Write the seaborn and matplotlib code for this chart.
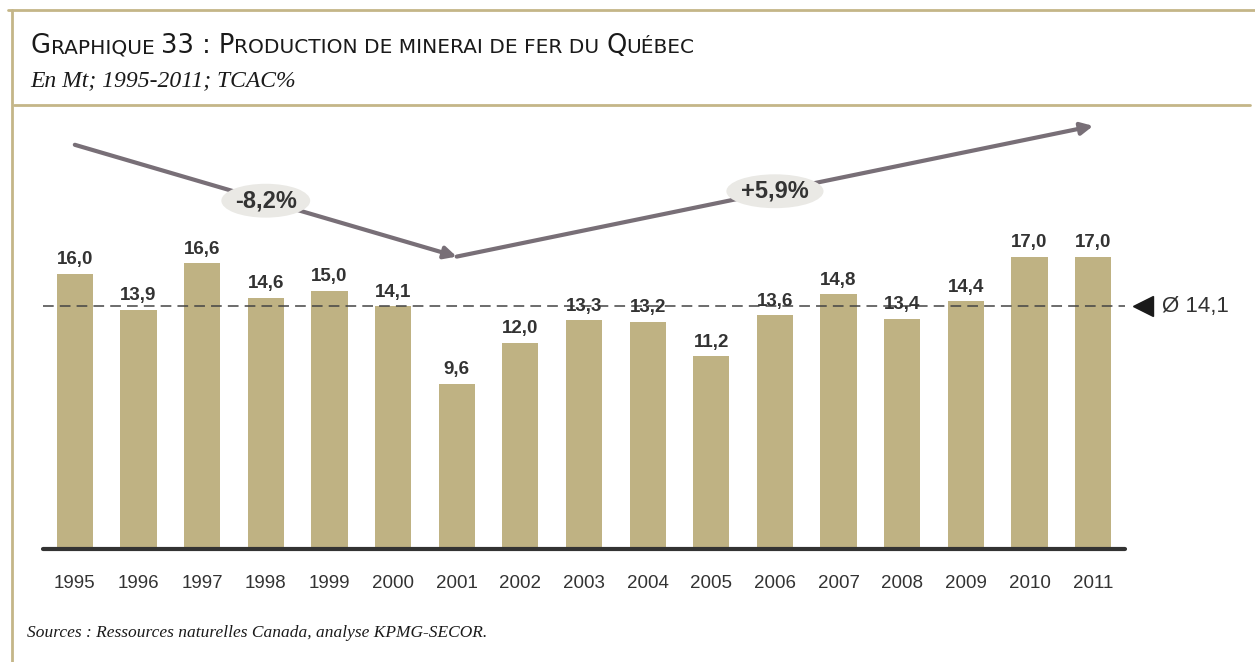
import numpy as np
import pandas as pd
import matplotlib
matplotlib.use("Agg")
import matplotlib.pyplot as plt
import seaborn as sns
from matplotlib.lines import Line2D

# Production de minerai de fer du Québec, en Mt
years = ["1995", "1996", "1997", "1998", "1999", "2000", "2001", "2002", "2003",
         "2004", "2005", "2006", "2007", "2008", "2009", "2010", "2011"]
production = [16.0, 13.9, 16.6, 14.6, 15.0, 14.1, 9.6, 12.0, 13.3,
              13.2, 11.2, 13.6, 14.8, 13.4, 14.4, 17.0, 17.0]

# periods for the TCAC arrows (index of start / end year)
period_start = [0, 6]
period_end = [6, 16]
arrow_y_start = [23.5, 17.0]
arrow_y_end = [17.0, 24.6]

bar_color = "#BFB283"
frame_color = "#C4B688"
arrow_color = "#786F77"
text_color = "#333333"

df = pd.DataFrame({"year": years, "prod": production})
mean_val = np.mean(production)

sns.set_theme(style="white")
plt.rcParams["font.family"] = ["Liberation Sans", "DejaVu Sans"]

W, H = 1255, 662
fig = plt.figure(figsize=(W / 100, H / 100), dpi=100)
ax = fig.add_axes([43 / W, (H - 549) / H, 1082 / W, 449 / H])

sns.barplot(data=df, x="year", y="prod", color=bar_color, width=0.57,
            saturation=1, linewidth=0, ax=ax)
ax.set_ylim(0, 449 / 17.2)
ax.set_xlim(-0.5, len(years) - 0.5)
ax.set_xlabel("")
ax.set_ylabel("")
ax.set_yticks([])
sns.despine(ax=ax, left=True, bottom=True)
ax.tick_params(axis="x", length=0, pad=19, labelsize=13.5, labelcolor=text_color)

# baseline
ax.axhline(0, color="#333333", lw=3, clip_on=False, zorder=5)

# value labels
for i, v in enumerate(production):
    ax.annotate(f"{v:.1f}".replace(".", ","), (i, v), xytext=(0, 4),
                textcoords="offset points", ha="center", va="bottom",
                fontsize=13.5, fontweight="bold", color=text_color)

# mean line
ax.axhline(mean_val, color="#444444", lw=1.1, ls=(0, (7, 4)),
           zorder=1)
ax.plot([1.0166], [mean_val], marker="<", markersize=15, color="#1a1a1a",
        transform=ax.get_yaxis_transform(), clip_on=False)
ax.text(1.034, mean_val, "Ø " + f"{mean_val:.1f}".replace(".", ","),
        transform=ax.get_yaxis_transform(), ha="left", va="center",
        fontsize=16, color=text_color)

# TCAC arrows
for s, e, ys, ye in zip(period_start, period_end, arrow_y_start, arrow_y_end):
    ax.annotate("", xy=(e, ye), xytext=(s, ys),
                arrowprops=dict(arrowstyle="-|>", color=arrow_color, lw=3,
                                mutation_scale=18, shrinkA=0, shrinkB=0))
    n = e - s
    tcac = (production[e] / production[s]) ** (1 / n) - 1
    label = f"{tcac * 100:+.1f}%".replace(".", ",")
    ax.text((s + e) / 2, (ys + ye) / 2, label, ha="center", va="center",
            fontsize=17, fontweight="bold", color=text_color, zorder=6,
            bbox=dict(boxstyle="ellipse,pad=0.02", fc="#EAE9E5", ec="none"))

# frame lines
fig.add_artist(Line2D([8 / W, 1], [1 - 10 / H, 1 - 10 / H], color=frame_color, lw=2))
fig.add_artist(Line2D([12 / W, 12 / W], [0, 1 - 10 / H], color=frame_color, lw=2))
fig.add_artist(Line2D([14 / W, 1250 / W], [1 - 105 / H, 1 - 105 / H], color=frame_color, lw=2))

# title in small caps
renderer = fig.canvas.get_renderer()
pieces = [("G", 18.5), ("RAPHIQUE ", 14.5), ("33 : P", 18.5),
          ("RODUCTION DE MINERAI DE FER DU ", 14.5), ("Q", 18.5), ("UÉBEC", 14.5)]
x = 31
for txt, size in pieces:
    t = fig.text(x / W, 1 - 53 / H, txt, fontsize=size, va="baseline",
                 ha="left", color="#1a1a1a", family=["DejaVu Sans"])
    x = t.get_window_extent(renderer).x1

fig.text(30 / W, 1 - 86 / H, "En Mt; 1995-2011; TCAC%", fontsize=17,
         style="italic", family=["Liberation Serif"], color="#1a1a1a",
         va="baseline")
fig.text(27 / W, 1 - 637 / H,
         "Sources : Ressources naturelles Canada, analyse KPMG-SECOR.",
         fontsize=12.5, style="italic", family=["Liberation Serif"],
         color="#1a1a1a", va="baseline")

fig.savefig("out.png", dpi=100)
